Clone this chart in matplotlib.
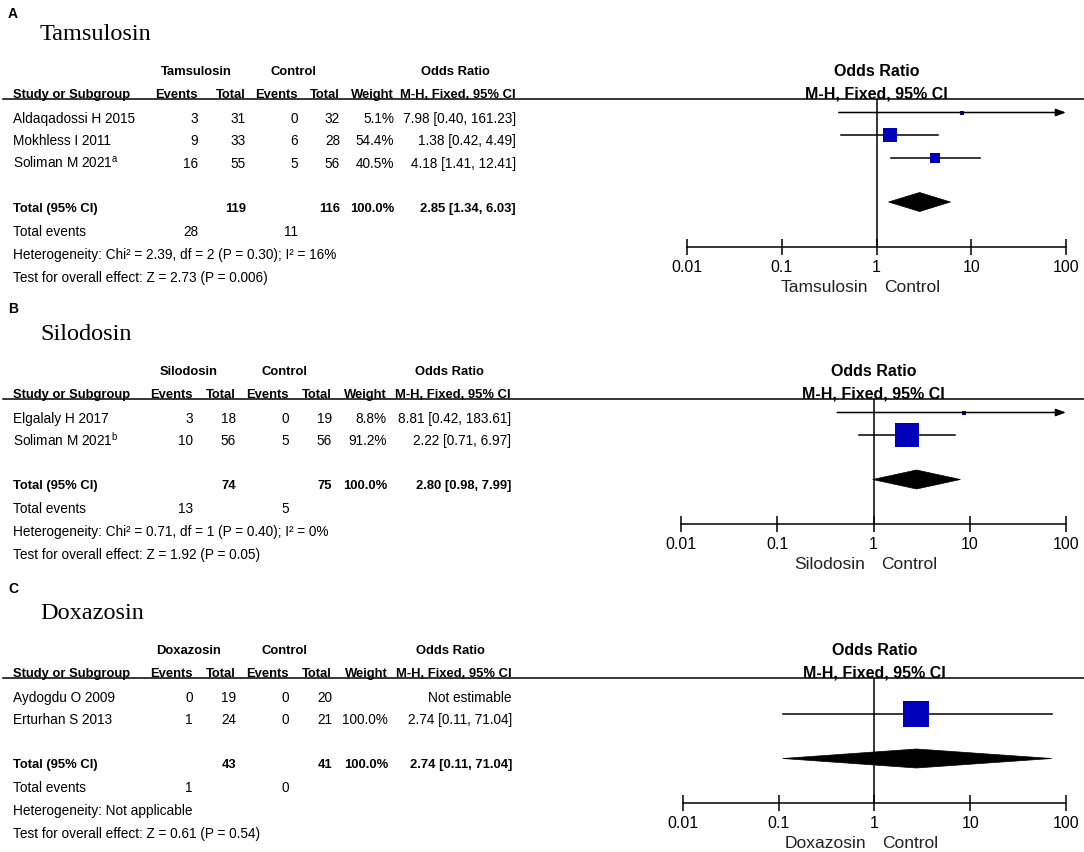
import numpy as np
import matplotlib
matplotlib.use('Agg')
import matplotlib.pyplot as plt
from matplotlib import font_manager
from matplotlib.lines import Line2D
from matplotlib.patches import Polygon
from matplotlib.ticker import NullLocator

# ---------------- data ----------------
drugs = ['Tamsulosin', 'Silodosin', 'Doxazosin']
letters = ['A', 'B', 'C']

a_studies = ['Aldaqadossi H 2015', 'Mokhless I 2011', r'Soliman M 2021$^\mathregular{a}$']
a_ev_t = [3, 9, 16]
a_n_t = [31, 33, 55]
a_ev_c = [0, 6, 5]
a_n_c = [32, 28, 56]
a_weight = [5.1, 54.4, 40.5]
a_or = [7.98, 1.38, 4.18]
a_lo = [0.40, 0.42, 1.41]
a_hi = [161.23, 4.49, 12.41]

b_studies = ['Elgalaly H 2017', r'Soliman M 2021$^\mathregular{b}$']
b_ev_t = [3, 10]
b_n_t = [18, 56]
b_ev_c = [0, 5]
b_n_c = [19, 56]
b_weight = [8.8, 91.2]
b_or = [8.81, 2.22]
b_lo = [0.42, 0.71]
b_hi = [183.61, 6.97]

c_studies = ['Aydogdu O 2009', 'Erturhan S 2013']
c_ev_t = [0, 1]
c_n_t = [19, 24]
c_ev_c = [0, 0]
c_n_c = [20, 21]
c_weight = [np.nan, 100.0]
c_or = [np.nan, 2.74]
c_lo = [np.nan, 0.11]
c_hi = [np.nan, 71.04]

tot_or = [2.85, 2.80, 2.74]
tot_lo = [1.34, 0.98, 0.11]
tot_hi = [6.03, 7.99, 71.04]
het_chi2 = [2.39, 0.71, None]
het_df = [2, 1, None]
het_p = ['0.30', '0.40', None]
het_i2 = [16, 0, None]
z_vals = [2.73, 1.92, 0.61]
z_p = ['0.006', '0.05', '0.54']

panels = [
    (a_studies, a_ev_t, a_n_t, a_ev_c, a_n_c, a_weight, a_or, a_lo, a_hi),
    (b_studies, b_ev_t, b_n_t, b_ev_c, b_n_c, b_weight, b_or, b_lo, b_hi),
    (c_studies, c_ev_t, c_n_t, c_ev_c, c_n_c, c_weight, c_or, c_lo, c_hi),
]

# ---------------- layout (pixels) ----------------
W, H = 1084, 853
panel_top = [70, 370, 649]
letter_base = [18, 313, 593]
col_right = [[198, 246, 298, 340, 394, 516],
             [193, 236, 289, 332, 387, 511],
             [193, 236, 289, 332, 388, 512]]
forest_left = [687, 681, 683]
forest_right = 1066
BLUE = '#0000BB'

plt.rcParams['font.family'] = ['Liberation Sans', 'DejaVu Sans']
names = {f.name for f in font_manager.fontManager.ttflist}
if 'Liberation Sans Narrow' in names:
    TAB_FONT, TAB_SIZE, TAB_BOLD = 'Liberation Sans Narrow', 11.9, 11.4
else:
    TAB_FONT, TAB_SIZE, TAB_BOLD = 'Liberation Sans', 9.8, 9.4

fig = plt.figure(figsize=(W / 100, H / 100), dpi=100)


def put(x, y, s, size=None, bold=False, ha='left', family=None):
    if size is None:
        size = TAB_BOLD if bold else TAB_SIZE
    cap = 0.716 * size * 100 / 72
    fig.text(x / W, 1 - (y + cap / 2) / H, s, ha=ha, va='baseline', fontsize=size,
             fontweight='bold' if bold else 'normal',
             family=[family or TAB_FONT, 'DejaVu Sans'])


def fmt_or(e, l, h):
    return f'{e:.2f} [{l:.2f}, {h:.2f}]'


for p, (studies, ev_t, n_t, ev_c, n_c, weight, ors, los, his) in enumerate(panels):
    top = panel_top[p]
    cr = col_right[p]
    n = len(studies)
    fl = forest_left[p]
    line_y = top + 30
    axis_y = top + 155 + 23 * (n - 2)

    # panel letter and title
    fig.text(8 / W, 1 - letter_base[p] / H, letters[p], fontsize=10, fontweight='bold', va='baseline')
    fig.text(40 / W, 1 - (top - 30) / H, drugs[p], fontsize=17.5, va='baseline',
             family=['Liberation Serif', 'DejaVu Serif'])

    # headers
    put((cr[0] + cr[1]) / 2 - 26, top, drugs[p], bold=True, ha='center')
    put((cr[2] + cr[3]) / 2 - 26, top, 'Control', bold=True, ha='center')
    put((cr[4] + cr[5]) / 2, top, 'Odds Ratio', bold=True, ha='center')
    hdr = ['Events', 'Total', 'Events', 'Total', 'Weight', 'M-H, Fixed, 95% CI']
    put(13, top + 23, 'Study or Subgroup', bold=True)
    for x, s in zip(cr, hdr):
        put(x, top + 23, s, bold=True, ha='right')
    xc = (fl + forest_right) / 2
    put(xc, top, 'Odds Ratio', size=11.5, bold=True, ha='center', family='Liberation Sans')
    put(xc, top + 23, 'M-H, Fixed, 95% CI', size=11.5, bold=True, ha='center', family='Liberation Sans')
    fig.add_artist(Line2D([3 / W, 1084 / W], [1 - line_y / H] * 2, color='k', lw=1.1))

    # forest axes, y in pixel units
    ax = fig.add_axes([fl / W, 1 - axis_y / H, (forest_right - fl) / W, (axis_y - line_y) / H])
    ax.set_xscale('log')
    ax.set_xlim(0.01, 100)
    ax.set_ylim(axis_y, line_y)
    ax.patch.set_alpha(0)
    for s in ['top', 'left', 'right']:
        ax.spines[s].set_visible(False)
    ax.spines['bottom'].set_linewidth(1.1)
    ax.set_xticks([0.01, 0.1, 1, 10, 100], ['0.01', '0.1', '1', '10', '100'])
    ax.xaxis.set_minor_locator(NullLocator())
    ax.tick_params(axis='x', direction='inout', length=11, width=1.1, pad=3, labelsize=11.5)
    ax.set_yticks([])
    ax.axvline(1, color='k', lw=1.1)

    rows_y = [top + 48 + 22.5 * i for i in range(n)]
    for i in range(n):
        y = rows_y[i]
        put(13, y, studies[i])
        for x, v in zip(cr[:4], [ev_t[i], n_t[i], ev_c[i], n_c[i]]):
            put(x, y, str(v), ha='right')
        if np.isnan(ors[i]):
            put(cr[5], y, 'Not estimable', ha='right')
            continue
        put(cr[4], y, f'{weight[i]:.1f}%', ha='right')
        put(cr[5], y, fmt_or(ors[i], los[i], his[i]), ha='right')
        ym = y - 4.5
        if his[i] > 100:
            ax.annotate('', xy=(100, ym), xytext=(los[i], ym), annotation_clip=False,
                        arrowprops=dict(arrowstyle='-|>,head_length=0.6,head_width=0.22',
                                        color='k', lw=1.1, shrinkA=0, shrinkB=0))
        else:
            ax.plot([los[i], his[i]], [ym, ym], color='k', lw=1.1)
        side = max(5, 0.26 * weight[i])
        ax.plot(ors[i], ym, 's', ms=side * 0.72, mfc=BLUE, mec=BLUE, mew=0)

    total_y = rows_y[-1] + 44
    put(13, total_y, 'Total (95% CI)', bold=True)
    put(cr[1], total_y, str(sum(n_t)), bold=True, ha='right')
    put(cr[3], total_y, str(sum(n_c)), bold=True, ha='right')
    put(cr[4], total_y, '100.0%', bold=True, ha='right')
    put(cr[5], total_y, fmt_or(tot_or[p], tot_lo[p], tot_hi[p]), bold=True, ha='right')
    yd = total_y - 4
    ax.add_patch(Polygon([[tot_lo[p], yd], [tot_or[p], yd - 9.5], [tot_hi[p], yd],
                          [tot_or[p], yd + 9.5]], closed=True, fc='k', ec='k', lw=0.5))

    put(13, total_y + 24, 'Total events')
    put(cr[0], total_y + 24, str(sum(ev_t)), ha='right')
    put(cr[2], total_y + 24, str(sum(ev_c)), ha='right')
    if het_chi2[p] is None:
        het = 'Heterogeneity: Not applicable'
    else:
        het = (f'Heterogeneity: Chi\u00b2 = {het_chi2[p]:.2f}, df = {het_df[p]} '
               f'(P = {het_p[p]}); I\u00b2 = {het_i2[p]}%')
    put(13, total_y + 47, het)
    put(13, total_y + 70, f'Test for overall effect: Z = {z_vals[p]:.2f} (P = {z_p[p]})')

    cap = 0.716 * 12.5 * 100 / 72
    ax.annotate(drugs[p], xy=(1, 0), xycoords=('data', 'axes fraction'),
                xytext=(-8, -(38 + cap / 2)), textcoords='offset pixels',
                ha='right', va='baseline', fontsize=12.5, color='#222222')
    ax.annotate('Control', xy=(1, 0), xycoords=('data', 'axes fraction'),
                xytext=(8, -(38 + cap / 2)), textcoords='offset pixels',
                ha='left', va='baseline', fontsize=12.5, color='#222222')

fig.savefig('out.png', dpi=100)
